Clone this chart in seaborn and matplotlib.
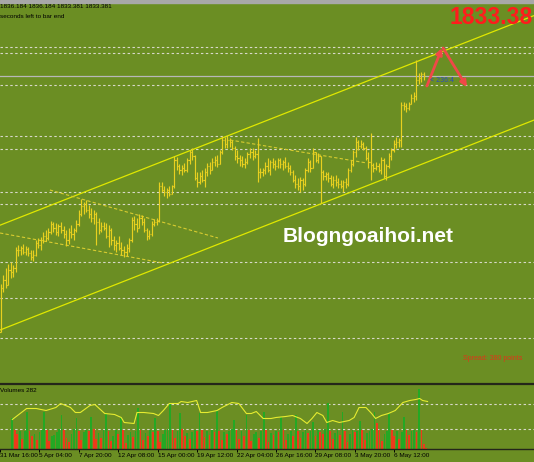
import numpy as np
import pandas as pd
import matplotlib
matplotlib.use("Agg")
import matplotlib.pyplot as plt
import seaborn as sns

# ---------------- data (XAUUSD H4) ----------------
highs = [1708.6, 1714.0, 1718.2, 1720.6, 1721.8, 1720.0, 1730.8, 1732.0, 1731.4, 1732.6,
         1731.4, 1730.8, 1729.0, 1729.0, 1735.0, 1736.2, 1736.8, 1739.8, 1741.0, 1742.2,
         1746.4, 1745.8, 1745.2, 1744.6, 1745.8, 1743.4, 1741.0, 1742.2, 1744.0, 1742.2,
         1747.0, 1753.0, 1759.6, 1757.8, 1759.0, 1756.0, 1754.2, 1753.0, 1751.8, 1748.2,
         1745.8, 1745.8, 1745.2, 1744.0, 1742.2, 1737.4, 1735.0, 1737.4, 1733.8, 1731.4,
         1732.6, 1736.2, 1748.8, 1749.4, 1748.2, 1750.6, 1750.0, 1748.2, 1742.2, 1741.0,
         1746.4, 1747.6, 1748.2, 1769.8, 1769.8, 1767.4, 1766.2, 1767.4, 1768.0, 1785.4,
         1784.8, 1780.6, 1780.0, 1781.2, 1784.2, 1789.0, 1790.2, 1786.0, 1775.8, 1775.8,
         1777.0, 1778.2, 1781.2, 1781.8, 1784.2, 1785.4, 1786.0, 1789.0, 1797.4, 1796.8,
         1797.4, 1796.2, 1795.0, 1791.4, 1789.0, 1786.0, 1785.4, 1784.2, 1787.8, 1790.2,
         1790.2, 1789.0, 1796.2, 1778.2, 1778.2, 1781.8, 1784.2, 1783.0, 1784.2, 1783.0,
         1784.2, 1784.2, 1783.0, 1784.8, 1781.8, 1780.0, 1777.0, 1774.0, 1772.2, 1772.8,
         1772.2, 1778.2, 1784.2, 1783.0, 1790.2, 1787.8, 1787.2, 1785.4, 1777.0, 1775.8,
         1775.8, 1774.0, 1773.4, 1774.0, 1772.2, 1771.0, 1771.0, 1772.2, 1778.2, 1783.0,
         1789.0, 1796.8, 1795.0, 1795.0, 1793.8, 1791.4, 1787.8, 1799.2, 1781.2, 1781.8,
         1781.2, 1784.8, 1784.2, 1780.6, 1787.2, 1790.2, 1795.0, 1796.8, 1796.2, 1817.8,
         1817.8, 1817.2, 1817.8, 1822.6, 1823.8, 1843.0, 1835.2, 1835.8, 1835.8]
lows = [1681.0, 1703.8, 1706.2, 1708.0, 1712.2, 1712.8, 1715.8, 1725.4, 1726.0, 1726.6,
        1726.0, 1725.4, 1723.0, 1722.4, 1725.4, 1730.2, 1729.0, 1733.2, 1734.4, 1735.0,
        1738.6, 1739.8, 1738.0, 1737.4, 1739.2, 1736.2, 1731.4, 1732.6, 1736.2, 1735.0,
        1739.8, 1743.4, 1749.4, 1750.6, 1751.8, 1748.2, 1745.8, 1744.6, 1732.0, 1738.6,
        1739.8, 1741.0, 1736.2, 1730.8, 1732.0, 1729.0, 1727.8, 1729.0, 1726.0, 1724.8,
        1725.4, 1727.8, 1733.8, 1741.0, 1739.8, 1742.2, 1744.0, 1739.8, 1735.0, 1735.6,
        1737.4, 1743.4, 1744.0, 1745.8, 1763.8, 1761.4, 1760.2, 1761.4, 1762.6, 1766.2,
        1777.0, 1774.6, 1774.0, 1775.8, 1775.8, 1780.6, 1783.0, 1771.0, 1766.8, 1768.6,
        1769.8, 1766.8, 1773.4, 1774.6, 1777.0, 1779.4, 1778.8, 1780.6, 1786.6, 1790.2,
        1790.2, 1790.8, 1789.0, 1783.0, 1781.2, 1779.4, 1778.8, 1778.2, 1780.6, 1784.2,
        1783.0, 1784.2, 1769.8, 1772.2, 1773.4, 1774.6, 1775.8, 1774.0, 1778.2, 1777.0,
        1778.2, 1778.2, 1777.0, 1778.2, 1775.8, 1774.0, 1769.8, 1766.2, 1765.0, 1763.8,
        1765.0, 1767.4, 1775.8, 1775.8, 1779.4, 1781.8, 1781.2, 1757.2, 1771.0, 1771.0,
        1769.8, 1767.4, 1766.2, 1767.4, 1766.2, 1766.2, 1763.8, 1766.2, 1767.4, 1775.8,
        1779.4, 1784.8, 1789.0, 1790.2, 1789.0, 1783.0, 1778.2, 1771.0, 1775.8, 1777.0,
        1775.8, 1774.6, 1772.2, 1771.0, 1778.2, 1783.0, 1787.8, 1790.2, 1790.8, 1790.8,
        1813.0, 1811.8, 1813.0, 1816.6, 1817.8, 1819.0, 1828.6, 1829.8, 1831.0]
closes = [1706.2, 1711.0, 1708.0, 1717.0, 1715.8, 1718.2, 1729.0, 1729.0, 1730.2, 1727.8,
          1729.6, 1727.2, 1724.8, 1726.0, 1733.2, 1732.0, 1735.0, 1737.4, 1736.2, 1739.8,
          1744.6, 1742.2, 1739.8, 1743.4, 1741.0, 1738.6, 1735.0, 1739.8, 1738.6, 1741.0,
          1744.6, 1750.6, 1755.4, 1756.6, 1753.0, 1750.6, 1748.2, 1750.6, 1745.8, 1741.0,
          1743.4, 1742.2, 1737.4, 1741.0, 1735.0, 1732.0, 1733.2, 1730.2, 1729.0, 1727.8,
          1730.2, 1735.0, 1747.0, 1744.6, 1742.2, 1748.2, 1745.8, 1741.0, 1737.4, 1738.6,
          1744.6, 1745.8, 1746.4, 1767.4, 1765.0, 1763.8, 1765.0, 1762.6, 1767.4, 1783.0,
          1779.4, 1777.0, 1778.2, 1777.0, 1783.0, 1787.8, 1785.4, 1772.2, 1769.8, 1773.4,
          1771.0, 1775.8, 1779.4, 1777.0, 1781.8, 1783.0, 1780.6, 1787.8, 1795.0, 1792.6,
          1795.0, 1793.8, 1790.2, 1785.4, 1784.2, 1783.0, 1780.6, 1781.8, 1786.6, 1787.8,
          1785.4, 1786.6, 1775.8, 1775.8, 1777.0, 1779.4, 1777.0, 1781.8, 1780.6, 1779.4,
          1783.0, 1780.6, 1781.8, 1779.4, 1778.2, 1775.8, 1771.0, 1768.6, 1767.4, 1771.0,
          1768.6, 1777.0, 1781.8, 1778.2, 1787.8, 1783.0, 1785.4, 1775.8, 1773.4, 1774.6,
          1772.2, 1768.6, 1771.0, 1769.8, 1768.6, 1767.4, 1769.8, 1768.6, 1777.0, 1780.6,
          1787.8, 1793.8, 1791.4, 1792.6, 1790.2, 1784.2, 1781.8, 1780.0, 1778.2, 1779.4,
          1777.0, 1783.0, 1773.4, 1779.4, 1785.4, 1789.0, 1792.6, 1793.8, 1795.0, 1816.0,
          1815.4, 1814.2, 1816.6, 1820.2, 1821.4, 1831.0, 1832.2, 1834.6, 1833.4]
first_open = 1679.8

volumes = [30200, 18100, 14300, 17200, 9100, 18000, 36400, 17300, 12100, 14200,
           8200, 16100, 19000, 36100, 18200, 7100, 12300, 13200, 16300, 19100,
           33200, 18300, 10100, 6200, 14100, 19200, 30300, 17100, 8100, 16200,
           18100, 17200, 31100, 19300, 9200, 15100, 10200, 18300, 35200, 17400,
           7200, 12200, 18100, 14300, 31200, 18200, 5100, 13100, 16200, 11100,
           17300, 40200, 18100, 8300, 15200, 12100, 18200, 16300, 30100, 17200,
           6100, 14200, 18300, 19100, 45200, 18100, 10300, 17100, 35300, 19200,
           12100, 15300, 9200, 16100, 18200, 17100, 35100, 18300, 11200, 17100,
           13200, 18100, 16200, 38100, 17200, 8100, 16300, 14100, 17300, 19200,
           28100, 18200, 9100, 17200, 12300, 33100, 18100, 7200, 14300, 16100,
           10200, 17100, 36300, 18200, 6100, 15200, 13100, 17300, 16100, 31200,
           18100, 8200, 14100, 17200, 12100, 33300, 17100, 10200, 16300, 18100,
           15200, 17100, 26300, 12100, 18200, 16100, 14300, 19100, 45100, 17200,
           9100, 15300, 18100, 13200, 36100, 17300, 6200, 14100, 18200, 16300,
           17100, 27200, 18300, 8100, 15200, 17100, 19300, 36200, 25100, 18200,
           7100, 14300, 17100, 35200, 18300, 12100, 17200, 9300, 16100, 31300,
           18200, 13100, 17300, 18100, 16200, 59100, 18300, 4100, 282]

vol_line_idx = [0, 5.8, 9.7, 13.7, 17.7, 19.6, 23.6, 25.6, 27.6, 31.5, 33.5, 37.5, 41.5,
                44.2, 45.4, 49.4, 50.6, 53.4, 57.3, 59.3, 61.3, 63.7, 67.3, 68.5, 71.2,
                74.8, 76.4, 79.2, 83.1, 85.1, 89.1, 91.9, 95.0, 97.0, 99.0, 101.8, 105.0,
                107.0, 110.9, 113.7, 116.9, 119.6, 121.6, 123.6, 126.0, 127.6, 130.0,
                132.7, 136.7, 138.7, 140.7, 143.5, 145.8, 147.4, 149.8, 152.6, 155.4,
                158.5, 161.3, 163.7, 165.3, 166.5, 168.5]
vol_line_val = [29000, 40000, 40000, 38000, 41000, 45000, 41000, 36000, 36000, 43000, 44000,
                35000, 34000, 31000, 26000, 25000, 36000, 36000, 35000, 33000, 38000, 45000,
                45000, 47000, 46000, 48000, 36000, 36000, 38000, 41000, 46000, 45000, 35000,
                35000, 37000, 30000, 30000, 31000, 32000, 33000, 30000, 25000, 30000, 36000,
                33000, 26000, 28000, 26000, 28000, 31000, 41000, 41000, 35000, 30000, 33000,
                35000, 38000, 46000, 48000, 49000, 50000, 48000, 47000]
vol_levels = [19500, 44500]

tick_idx = [-5, 11, 27, 43, 59, 75, 91, 107, 123, 139, 155]
tick_labels = ["31 Mar 16:00", "5 Apr 04:00", "7 Apr 20:00", "12 Apr 08:00", "15 Apr 00:00",
               "19 Apr 12:00", "22 Apr 04:00", "26 Apr 16:00", "29 Apr 08:00",
               "3 May 20:00", "6 May 12:00"]

level_prices = [1850.8, 1847.2, 1828.0, 1797.4, 1789.6, 1763.8, 1756.6, 1721.8, 1700.2, 1676.2]
bid_price = 1833.38

upper_channel = [(0, 1744.0), (200, 1862.7)]
lower_channel = [(0, 1681.1), (200, 1800.0)]
flag_lines = [[(-0.2, 1739.2), (64.5, 1721.2)],
              [(19.6, 1765.0), (86.3, 1736.2)],
              [(91.1, 1795.0), (145.4, 1781.2)]]
arrow_up = [(169.2, 1827.4), (175.2, 1850.2)]
arrow_down = [(175.6, 1850.2), (185.1, 1826.8)]

# ---------------- styling ----------------
W, H = 534, 462
BG = "#6b8e23"
BAR = "#e8d020"
CHAN = "#e0e800"
GRID = "#d8d8c8"
UP = "#24a824"
DOWN = "#ee3a1a"

fig = plt.figure(figsize=(W / 100, H / 100), dpi=100, facecolor=BG)
ax = fig.add_axes([0, 78 / H, 1, 384 / H], facecolor=BG)
axv = fig.add_axes([0, 13.5 / H, 1, 64.5 / H], facecolor=BG)

n = len(closes)
idx = np.arange(n)
opens = np.array([first_open] + closes[:-1])
hi = np.maximum(np.array(highs), np.maximum(opens, closes))
lo = np.minimum(np.array(lows), np.minimum(opens, closes))

xmin, xmax = -0.2, 211.7

# price panel
for lv in level_prices:
    ax.axhline(lv, color=GRID, lw=0.8, ls=(0, (2.2, 2.2)), zorder=1)
ax.axhline(bid_price, color="#b8b8b8", lw=0.9, zorder=1)

ax.axline(upper_channel[0], upper_channel[1], color=CHAN, lw=0.9, zorder=2)
ax.axline(lower_channel[0], lower_channel[1], color=CHAN, lw=0.9, zorder=2)
for (p1, p2) in flag_lines:
    sns.lineplot(x=[p1[0], p2[0]], y=[p1[1], p2[1]], ax=ax, color="#d8cc30",
                 lw=0.8, zorder=2).lines[-1].set_linestyle((0, (3, 2)))

ax.vlines(idx, lo, hi, color=BAR, lw=0.85, zorder=3)
ax.hlines(opens, idx - 0.45, idx, color=BAR, lw=0.85, zorder=3)
ax.hlines(closes, idx, idx + 0.45, color=BAR, lw=0.85, zorder=3)

for a in (arrow_up, arrow_down):
    ax.annotate("", xy=a[1], xytext=a[0],
                arrowprops=dict(arrowstyle="-|>", color="#f04848", lw=2.0,
                                mutation_scale=9, shrinkA=0, shrinkB=0), zorder=5)

ax.set_xlim(xmin, xmax)
ax.set_ylim(1648.6, 1879.0)
ax.set_xticks([]); ax.set_yticks([])
for s in ax.spines.values():
    s.set_visible(False)

# volume panel (bar index == categorical position 0..n-1)
vcolors = [UP if i == 0 or volumes[i] > volumes[i - 1] else DOWN for i in range(n)]
vdf = pd.DataFrame({"idx": idx, "vol": volumes})
for lv in vol_levels:
    axv.axhline(lv, color=GRID, lw=0.8, ls=(0, (2.2, 2.2)), zorder=1)
sns.barplot(data=vdf, x="idx", y="vol", order=list(idx), color=UP, width=0.7,
            errorbar=None, saturation=1, ax=axv, zorder=2, linewidth=0)
for p, c in zip(axv.patches, vcolors):
    p.set_facecolor(c)
    p.set_edgecolor("none")
sns.lineplot(x=vol_line_idx, y=vol_line_val, ax=axv, color="#e6ec30", lw=0.8, zorder=3)
axv.set_xlim(xmin, xmax)
axv.set_ylim(0, 64500)
axv.set_yticks([])
axv.set_ylabel(""); axv.set_xlabel("")
axv.set_xticks(tick_idx)
axv.set_xticklabels(tick_labels, ha="left", fontsize=4.6, family="Liberation Sans", color="black")
axv.tick_params(axis="x", direction="out", length=2, width=0.7, pad=1.2, colors="black")
for k, s in axv.spines.items():
    s.set_visible(k in ("top", "bottom"))
    s.set_color("#24261a")
axv.spines["top"].set_linewidth(1.6)
axv.spines["bottom"].set_linewidth(1.0)

# texts
def fx(x):
    return x / W

def fy(y):
    return 1 - y / H

fig.patches.append(plt.Rectangle((0, fy(2.5)), 1, 2.5 / H, transform=fig.transFigure,
                                 color="#a8a8a8", zorder=0))
fig.text(fx(0.5), fy(7), "1836.184 1836.184 1833.381 1833.381", fontsize=4.6,
         family="Liberation Sans", color="black", va="center", ha="left")
fig.text(fx(0.5), fy(16), "seconds left to bar end", fontsize=4.6,
         family="Liberation Sans", color="black", va="center", ha="left")
fig.text(fx(533), fy(17), "1833.38", fontsize=16.5, family="Liberation Sans",
         weight="bold", color="#ff1c1c", va="center", ha="right")
fig.text(fx(283), fy(237), "Blogngoaihoi.net", fontsize=15, family="Liberation Sans",
         weight="bold", color="white", va="center", ha="left")
fig.text(fx(430), fy(81), "< 236:4", fontsize=5, family="Liberation Sans",
         color="#2848c8", va="center", ha="left")
fig.text(fx(463), fy(358), "Spread: 380 points", fontsize=5, family="Liberation Sans",
         color="#e03418", va="center", ha="left")
fig.text(fx(0.5), fy(391), "Volumes 282", fontsize=4.6, family="Liberation Sans",
         color="black", va="center", ha="left")

fig.savefig("out.png", dpi=100, facecolor=BG)
